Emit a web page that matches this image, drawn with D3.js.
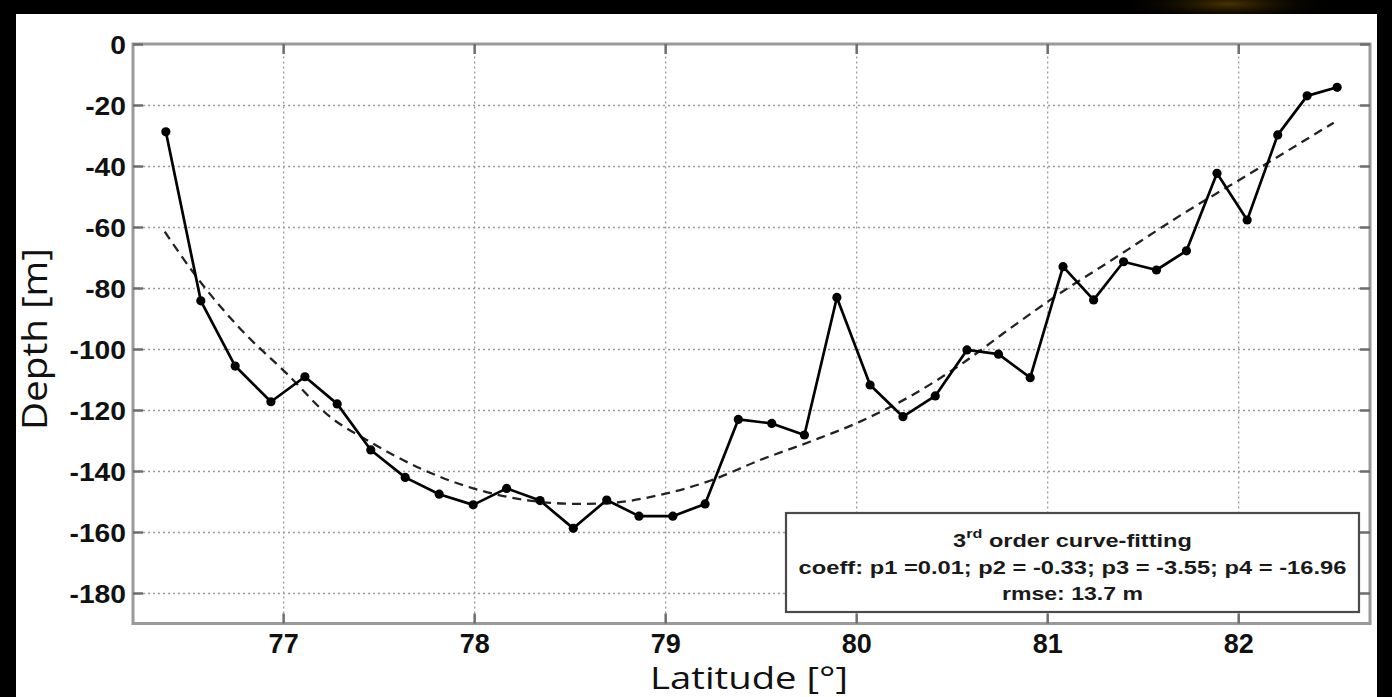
<!DOCTYPE html>
<html>
<head>
<meta charset="utf-8">
<script src="https://cdn.jsdelivr.net/npm/d3@7"></script>
<style>
  html, body { margin: 0; padding: 0; background: #000; overflow: hidden; }
  svg { display: block; }
</style>
</head>
<body>
<svg id="chart" width="1392" height="697"></svg>
<script>
// Measured seabed profile along the transect
const latitude = [76.386, 76.569, 76.749, 76.936, 77.114, 77.283, 77.459, 77.639, 77.817, 77.995,
                  78.170, 78.345, 78.519, 78.694, 78.863, 79.040, 79.209, 79.383, 79.558, 79.729,
                  79.899, 80.073, 80.245, 80.414, 80.580, 80.745, 80.911, 81.083, 81.243, 81.400,
                  81.572, 81.729, 81.889, 82.047, 82.207, 82.361, 82.518];
const depth = [-28.8, -84.2, -105.6, -117.3, -109.1, -118.0, -133.1, -142.1, -147.6, -151.1,
               -145.7, -149.7, -158.8, -149.5, -154.8, -154.8, -150.8, -123.1, -124.4, -128.2,
               -83.1, -111.8, -122.2, -115.4, -100.3, -101.7, -109.4, -73.0, -83.9, -71.4,
               -74.1, -67.8, -42.4, -57.7, -29.8, -17.0, -14.2];

// 3rd order fitted curve, sampled along latitude
const fitLatitude = [76.38, 76.546, 76.773, 77.018, 77.245, 77.454, 77.716, 77.995, 78.29, 78.55,
                     78.69, 78.97, 79.235, 79.497, 79.758, 80.02, 80.28, 80.545, 80.807, 81.016,
                     81.366, 81.715, 82.064, 82.50];
const fitDepth = [-61.5, -76.3, -93.2, -108.0, -122.2, -130.4, -139.1, -145.7, -149.7, -150.8,
                  -150.6, -147.9, -143.2, -136.4, -130.4, -123.8, -115.6, -105.2, -93.2, -83.9,
                  -69.7, -55.5, -42.4, -25.8];

const xTickValues = [77, 78, 79, 80, 81, 82];
const yTickValues = [0, -20, -40, -60, -80, -100, -120, -140, -160, -180];

const xTitle = "Latitude [°]";
const yTitle = "Depth [m]";
const legendHead = ["3", "rd", " order curve-fitting"];
const legendCoeff = "coeff: p1 =0.01; p2 = -0.33; p3 = -3.55; p4 = -16.96";
const legendRmse = "rmse: 13.7 m";

const svg = d3.select("#chart");
const W = 1392, H = 697;
const plot = { left: 133, top: 44, right: 1370, bottom: 623.5 };

// stretch a text element horizontally (in its own frame) to a target width
function stretchTo(sel, width, anchorX) {
  const len = sel.node().getComputedTextLength();
  const k = width / len;
  sel.attr("transform", `translate(${anchorX},0) scale(${k},1) translate(${-anchorX},0)`);
}

// dark surround with a faint warm glow at the top edge
const defs = svg.append("defs");
const glow = defs.append("radialGradient").attr("id", "glow");
glow.append("stop").attr("offset", "0%").attr("stop-color", "#4a3300").attr("stop-opacity", 1);
glow.append("stop").attr("offset", "100%").attr("stop-color", "#000").attr("stop-opacity", 0);
svg.append("rect").attr("width", W).attr("height", H).attr("fill", "#000");
svg.append("ellipse").attr("cx", 1228).attr("cy", 4).attr("rx", 110).attr("ry", 18).attr("fill", "url(#glow)");

// white figure panel
svg.append("rect").attr("x", 16).attr("y", 14).attr("width", 1361).attr("height", H - 14).attr("fill", "#fff");

const x = d3.scaleLinear().domain([76.214, 82.69]).range([plot.left, plot.right]);
const y = d3.scaleLinear().domain([-190, 0]).range([plot.bottom, plot.top]);
const plotW = plot.right - plot.left, plotH = plot.bottom - plot.top;

// dotted grid
const gridStyle = g => {
  g.select(".domain").remove();
  g.selectAll(".tick line").attr("stroke", "#9a9a9a").attr("stroke-width", 1.3).attr("stroke-dasharray", "2,3");
  g.selectAll(".tick text").remove();
};
svg.append("g").attr("transform", `translate(0,${plot.bottom})`)
  .call(d3.axisBottom(x).tickValues(xTickValues).tickSize(-plotH).tickFormat(""))
  .call(gridStyle);
svg.append("g").attr("transform", `translate(${plot.left},0)`)
  .call(d3.axisLeft(y).tickValues(yTickValues.filter(v => v !== 0)).tickSize(-plotW).tickFormat(""))
  .call(gridStyle);

// plot frame
svg.append("rect").attr("x", plot.left).attr("y", plot.top).attr("width", plotW).attr("height", plotH)
  .attr("fill", "none").attr("stroke", "#9a9a9a").attr("stroke-width", 3);

// inward ticks on all four sides
const tickStyle = g => {
  g.select(".domain").remove();
  g.selectAll(".tick line").attr("stroke", "#6e6e6e").attr("stroke-width", 2.5);
};
const axisFont = "'Liberation Sans', Arial, Helvetica, sans-serif";

const yAxis = svg.append("g").attr("transform", `translate(${plot.left},0)`)
  .call(d3.axisLeft(y).tickValues(yTickValues).tickSize(-10).tickPadding(16).tickFormat(d3.format("d")))
  .call(tickStyle);
yAxis.selectAll(".tick text")
  .attr("fill", "#111").attr("font-family", axisFont).attr("font-weight", "bold").attr("font-size", 25)
  .attr("x", -7).attr("dy", "0.36em")
  .each(function () {
    const t = d3.select(this);
    t.text(t.text().replace("−", "-"));
    t.attr("transform", "translate(-7,0) scale(1.13,1) translate(7,0)");
  });

svg.append("g").attr("transform", `translate(${plot.right},0)`)
  .call(d3.axisRight(y).tickValues(yTickValues).tickSize(-10).tickFormat(""))
  .call(tickStyle);

const xAxis = svg.append("g").attr("transform", `translate(0,${plot.bottom})`)
  .call(d3.axisBottom(x).tickValues(xTickValues).tickSize(-10).tickPadding(0).tickFormat(d3.format("d")))
  .call(tickStyle);
xAxis.selectAll(".tick text")
  .attr("fill", "#111").attr("font-family", axisFont).attr("font-weight", "bold").attr("font-size", 27)
  .attr("y", 29).attr("dy", 0);

svg.append("g").attr("transform", `translate(0,${plot.top})`)
  .call(d3.axisTop(x).tickValues(xTickValues).tickSize(-10).tickFormat(""))
  .call(tickStyle);

// fitted curve (dashed)
const fitPts = fitLatitude.map((v, i) => [v, fitDepth[i]]);
svg.append("path")
  .datum(fitPts)
  .attr("fill", "none").attr("stroke", "#222").attr("stroke-width", 2.3).attr("stroke-dasharray", "9,6")
  .attr("d", d3.line().x(d => x(d[0])).y(d => y(d[1])).curve(d3.curveMonotoneX));

// measured profile
const pts = latitude.map((v, i) => [v, depth[i]]);
svg.append("path")
  .datum(pts)
  .attr("fill", "none").attr("stroke", "#000").attr("stroke-width", 2.7).attr("stroke-linejoin", "round")
  .attr("d", d3.line().x(d => x(d[0])).y(d => y(d[1])));
svg.append("g").selectAll("circle").data(pts).join("circle")
  .attr("cx", d => x(d[0])).attr("cy", d => y(d[1])).attr("r", 4.6).attr("fill", "#000");

// legend box
const lg = { x: 786, y: 513, w: 573, h: 99 };
svg.append("rect").attr("x", lg.x).attr("y", lg.y).attr("width", lg.w).attr("height", lg.h)
  .attr("fill", "#fff").attr("stroke", "#4a4a4a").attr("stroke-width", 2.2);
const lcx = lg.x + lg.w / 2;
const legendFont = "'Liberation Sans', Arial, sans-serif";

const head = svg.append("text").attr("x", lcx).attr("y", 547).attr("text-anchor", "middle")
  .attr("font-family", legendFont).attr("font-weight", "bold").attr("font-size", 19).attr("fill", "#1a1a1a");
head.append("tspan").text(legendHead[0]);
head.append("tspan").attr("font-size", 13).attr("dy", -9).text(legendHead[1]);
head.append("tspan").attr("dy", 9).text(legendHead[2]);
stretchTo(head, 239, lcx);

const coeff = svg.append("text").attr("x", lcx).attr("y", 574).attr("text-anchor", "middle")
  .attr("font-family", legendFont).attr("font-weight", "bold").attr("font-size", 19).attr("fill", "#1a1a1a")
  .text(legendCoeff);
stretchTo(coeff, 548, lcx);

const rmse = svg.append("text").attr("x", lcx).attr("y", 600).attr("text-anchor", "middle")
  .attr("font-family", legendFont).attr("font-weight", "bold").attr("font-size", 19).attr("fill", "#1a1a1a")
  .text(legendRmse);
stretchTo(rmse, 141, lcx);

// axis titles
const titleFont = "'Open Sans', 'DejaVu Sans', sans-serif";
const xt = svg.append("text").attr("x", 749).attr("y", 689).attr("text-anchor", "middle")
  .attr("font-family", titleFont).attr("font-size", 31).attr("fill", "#111").text(xTitle);
stretchTo(xt, 198, 749);

const ytg = svg.append("g").attr("transform", "translate(47,339) rotate(-90)");
const yt = ytg.append("text").attr("x", 0).attr("y", 0).attr("text-anchor", "middle")
  .attr("font-family", titleFont).attr("font-size", 34).attr("fill", "#111").text(yTitle);
stretchTo(yt, 182, 0);
</script>
</body>
</html>
